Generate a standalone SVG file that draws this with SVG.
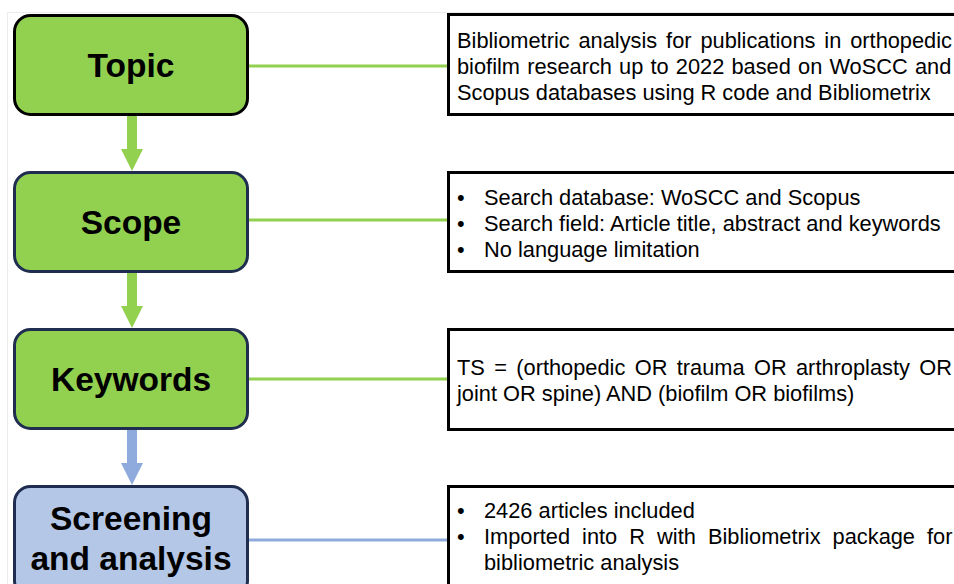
<svg xmlns="http://www.w3.org/2000/svg" width="954" height="584" viewBox="0 0 954 584">
  <style>
    .node-label { font-family: "Liberation Sans", Arial, sans-serif; font-weight: bold; font-size: 33.5px; fill: #000; text-anchor: middle; }
    .desc { font-family: "Liberation Sans", Arial, sans-serif; font-size: 21.8px; fill: #000; }
    .green { fill: #92D050; }
    .blue { fill: #B4C7E7; }
    .desc-box { fill: #fff; stroke: #000; stroke-width: 3; }
    .conn-g { stroke: #92D050; stroke-width: 3; fill: none; }
    .conn-b { stroke: #8FAADC; stroke-width: 3; fill: none; }
  </style>
  <rect x="0" y="0" width="954" height="584" fill="#fff"/>
  <rect x="7.5" y="12.5" width="960" height="600" fill="none" stroke="#ececec" stroke-width="1"/>

  <g id="connectors">
    <line class="conn-g" x1="248" y1="66" x2="448" y2="66"/>
    <line class="conn-g" x1="248" y1="220" x2="448" y2="220"/>
    <line class="conn-g" x1="248" y1="379" x2="448" y2="379"/>
    <line class="conn-b" x1="248" y1="540" x2="448" y2="540"/>
    <polygon points="127,116 137,116 137,149 143,149 132,171 121,149 127,149" fill="#92D050"/>
    <polygon points="127,273 137,273 137,306 143,306 132,328 121,306 127,306" fill="#92D050"/>
    <polygon points="127,430 137,430 137,463 143,463 132,485 121,463 127,463" fill="#8FAADC"/>
  </g>

  <g id="topic">
    <rect class="green" x="14.5" y="15.5" width="233" height="99" rx="16" stroke="#000" stroke-width="3"/>
    <text class="node-label" x="131" y="77">Topic</text>
  </g>
  <g id="scope">
    <rect class="green" x="14.5" y="172.5" width="233" height="99" rx="16" stroke="#1F2D50" stroke-width="3"/>
    <text class="node-label" x="131" y="234">Scope</text>
  </g>
  <g id="keywords">
    <rect class="green" x="14.5" y="329.5" width="233" height="99" rx="16" stroke="#1F2D50" stroke-width="3"/>
    <text class="node-label" x="131" y="391">Keywords</text>
  </g>
  <g id="screening">
    <rect class="blue" x="14.5" y="486.5" width="233" height="110" rx="16" stroke="#1F2D50" stroke-width="3"/>
    <text class="node-label" x="131" y="530">Screening</text>
    <text class="node-label" x="131" y="570">and analysis</text>
  </g>

  <g id="topic-desc">
    <rect class="desc-box" x="448.5" y="14.5" width="520" height="100"/>
    <text class="desc" x="457" y="48" word-spacing="2.8">Bibliometric analysis for publications in orthopedic</text>
    <text class="desc" x="457" y="74" word-spacing="1.1">biofilm research up to 2022 based on WoSCC and</text>
    <text class="desc" x="457" y="100">Scopus databases using R code and Bibliometrix</text>
  </g>
  <g id="scope-desc">
    <rect class="desc-box" x="448.5" y="172.5" width="520" height="99"/>
    <text class="desc" x="457" y="205">•</text>
    <text class="desc" x="484" y="205">Search database: WoSCC and Scopus</text>
    <text class="desc" x="457" y="231">•</text>
    <text class="desc" x="484" y="231">Search field: Article title, abstract and keywords</text>
    <text class="desc" x="457" y="257">•</text>
    <text class="desc" x="484" y="257">No language limitation</text>
  </g>
  <g id="keywords-desc">
    <rect class="desc-box" x="448.5" y="329.5" width="520" height="100"/>
    <text class="desc" x="457" y="375" word-spacing="3.3">TS = (orthopedic OR trauma OR arthroplasty OR</text>
    <text class="desc" x="457" y="401">joint OR spine) AND (biofilm OR biofilms)</text>
  </g>
  <g id="screening-desc">
    <rect class="desc-box" x="448.5" y="486.5" width="520" height="110"/>
    <text class="desc" x="457" y="518">•</text>
    <text class="desc" x="484" y="518">2426 articles included</text>
    <text class="desc" x="457" y="544">•</text>
    <text class="desc" x="484" y="544" word-spacing="6">Imported into R with Bibliometrix package for</text>
    <text class="desc" x="484" y="570">bibliometric analysis</text>
  </g>
</svg>
